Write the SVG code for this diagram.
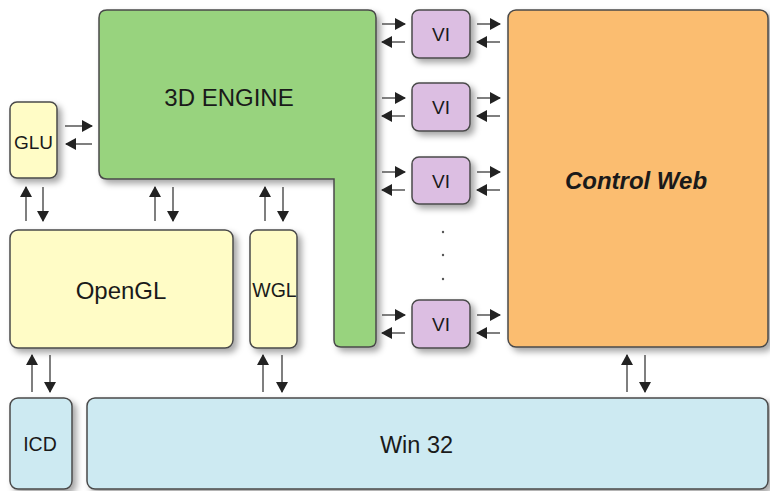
<svg xmlns="http://www.w3.org/2000/svg" width="770" height="491" viewBox="0 0 770 491">
<style>
.box{stroke:#4a4a4a;stroke-width:1.5}
.t{font-family:"Liberation Sans",Arial,sans-serif;fill:#1a1a1a;text-anchor:middle;dominant-baseline:central}
.c{stroke:#555;stroke-width:1.5;fill:none;marker-end:url(#ah)}
</style>
<defs>
<filter id="sh" x="-20%" y="-20%" width="150%" height="150%">
<feDropShadow dx="4" dy="4" stdDeviation="3" flood-color="#000" flood-opacity="0.35"/>
</filter>
<marker id="ah" viewBox="0 0 11 12" refX="10" refY="6" markerWidth="11" markerHeight="12" markerUnits="userSpaceOnUse" orient="auto">
<path d="M0,0 L11,6 L0,12 Z" fill="#222"/>
</marker>
</defs>
<rect width="770" height="491" fill="#fff"/>
<g id="engine">
<path class="box" filter="url(#sh)" fill="#98d37e" d="M107,10 H368 Q376,10 376,18 V340 Q376,347 369,347 H341 Q334,347 334,340 V179 H107 Q99,179 99,171 V18 Q99,10 107,10 Z"/>
<text class="t" x="229" y="97" font-size="24">3D ENGINE</text>
</g>
<g id="glu">
<rect class="box" filter="url(#sh)" fill="#fffcc6" x="10" y="102" width="47" height="76" rx="7"/>
<text class="t" x="33.5" y="142" font-size="19">GLU</text>
</g>
<g id="opengl">
<rect class="box" filter="url(#sh)" fill="#fffcc6" x="10" y="230" width="223" height="118" rx="8"/>
<text class="t" x="121" y="290" font-size="24">OpenGL</text>
</g>
<g id="wgl">
<rect class="box" filter="url(#sh)" fill="#fffcc6" x="250" y="230" width="47" height="118" rx="7"/>
<text class="t" x="274.5" y="290" font-size="19.5">WGL</text>
</g>
<g id="icd">
<rect class="box" filter="url(#sh)" fill="#cdeaf2" x="10" y="398" width="62" height="91" rx="8"/>
<text class="t" x="40" y="444" font-size="19.5">ICD</text>
</g>
<g id="win32">
<rect class="box" filter="url(#sh)" fill="#cdeaf2" x="87" y="398" width="681" height="91" rx="8"/>
<text class="t" x="416.5" y="445" font-size="23.5">Win 32</text>
</g>
<g id="vi1">
<rect class="box" filter="url(#sh)" fill="#dcbee2" x="412" y="10" width="58" height="48" rx="7"/>
<text class="t" x="441" y="34" font-size="19">VI</text>
</g>
<g id="vi2">
<rect class="box" filter="url(#sh)" fill="#dcbee2" x="412" y="83" width="58" height="48" rx="7"/>
<text class="t" x="441" y="107" font-size="19">VI</text>
</g>
<g id="vi3">
<rect class="box" filter="url(#sh)" fill="#dcbee2" x="412" y="157" width="58" height="47" rx="7"/>
<text class="t" x="441" y="181" font-size="19">VI</text>
</g>
<g id="vi4">
<rect class="box" filter="url(#sh)" fill="#dcbee2" x="412" y="300" width="58" height="48" rx="7"/>
<text class="t" x="441" y="324" font-size="19">VI</text>
</g>
<g id="dots" fill="#555">
<circle cx="443" cy="232" r="1.2"/>
<circle cx="443" cy="255" r="1.2"/>
<circle cx="443" cy="279" r="1.2"/>
</g>
<g id="controlweb">
<rect class="box" filter="url(#sh)" fill="#fbbd6f" x="508" y="10" width="260" height="337" rx="8"/>
<text class="t" x="636" y="180" font-size="24" font-weight="bold" font-style="italic">Control Web</text>
</g>
<g id="connectors">
<line class="c" x1="65" y1="126" x2="92" y2="126"/>
<line class="c" x1="92" y1="144" x2="66" y2="144"/>
<line class="c" x1="26" y1="221" x2="26" y2="187"/>
<line class="c" x1="43" y1="187" x2="43" y2="221"/>
<line class="c" x1="155" y1="221" x2="155" y2="187"/>
<line class="c" x1="173" y1="187" x2="173" y2="221"/>
<line class="c" x1="265" y1="221" x2="265" y2="187"/>
<line class="c" x1="283" y1="187" x2="283" y2="221"/>
<line class="c" x1="32" y1="392" x2="32" y2="355"/>
<line class="c" x1="50" y1="355" x2="50" y2="392"/>
<line class="c" x1="263" y1="392" x2="263" y2="355"/>
<line class="c" x1="282" y1="355" x2="282" y2="392"/>
<line class="c" x1="627" y1="392" x2="627" y2="355"/>
<line class="c" x1="645" y1="355" x2="645" y2="392"/>
<line class="c" x1="382" y1="24" x2="405" y2="24"/>
<line class="c" x1="405" y1="42" x2="382" y2="42"/>
<line class="c" x1="477" y1="24" x2="500" y2="24"/>
<line class="c" x1="500" y1="42" x2="477" y2="42"/>
<line class="c" x1="382" y1="98" x2="405" y2="98"/>
<line class="c" x1="405" y1="116" x2="382" y2="116"/>
<line class="c" x1="477" y1="98" x2="500" y2="98"/>
<line class="c" x1="500" y1="116" x2="477" y2="116"/>
<line class="c" x1="382" y1="172" x2="405" y2="172"/>
<line class="c" x1="405" y1="190" x2="382" y2="190"/>
<line class="c" x1="477" y1="172" x2="500" y2="172"/>
<line class="c" x1="500" y1="190" x2="477" y2="190"/>
<line class="c" x1="382" y1="315" x2="405" y2="315"/>
<line class="c" x1="405" y1="333" x2="382" y2="333"/>
<line class="c" x1="477" y1="315" x2="500" y2="315"/>
<line class="c" x1="500" y1="333" x2="477" y2="333"/>
</g>
</svg>
